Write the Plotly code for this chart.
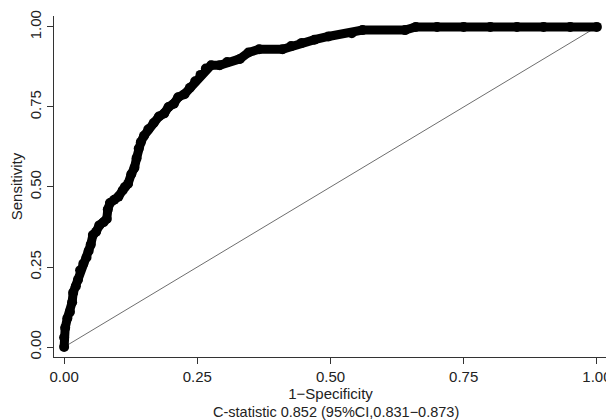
import plotly.graph_objects as go

# ROC curve points (1 - specificity, sensitivity)
fpr = [0.000, 0.000, 0.002, 0.006, 0.011, 0.015, 0.017, 0.022, 0.026, 0.030,
       0.036, 0.042, 0.046, 0.050, 0.054, 0.060, 0.066, 0.074, 0.080, 0.082,
       0.086, 0.094, 0.102, 0.110, 0.114, 0.120, 0.126, 0.132, 0.136, 0.140,
       0.144, 0.150, 0.158, 0.168, 0.178, 0.188, 0.196, 0.206, 0.214, 0.226,
       0.236, 0.246, 0.256, 0.266, 0.276, 0.292, 0.306, 0.330, 0.346, 0.366,
       0.410, 0.426, 0.446, 0.470, 0.496, 0.540, 0.560, 0.640, 0.660, 0.700,
       0.750, 0.800, 0.850, 0.900, 0.950, 1.000]
tpr = [0.000, 0.030, 0.060, 0.090, 0.110, 0.140, 0.170, 0.190, 0.210, 0.240,
       0.260, 0.280, 0.300, 0.320, 0.350, 0.360, 0.380, 0.390, 0.400, 0.430,
       0.450, 0.460, 0.470, 0.490, 0.500, 0.510, 0.540, 0.560, 0.590, 0.620,
       0.640, 0.660, 0.680, 0.700, 0.720, 0.730, 0.750, 0.760, 0.780, 0.790,
       0.810, 0.830, 0.850, 0.870, 0.880, 0.880, 0.890, 0.900, 0.920, 0.930,
       0.930, 0.940, 0.950, 0.960, 0.970, 0.980, 0.990, 0.990, 1.000, 1.000,
       1.000, 1.000, 1.000, 1.000, 1.000, 1.000]

ref_x = [0, 1]
ref_y = [0, 1]

tick_vals = [0, 0.25, 0.5, 0.75, 1.0]
tick_text = ["0.00", "0.25", "0.50", "0.75", "1.00"]

caption = "C-statistic 0.852 (95%CI,0.831\u22120.873)"

font = "Liberation Sans, Arial, sans-serif"

fig = go.Figure()
fig.add_trace(go.Scatter(
    x=ref_x, y=ref_y, mode="lines",
    line=dict(color="#6e6e6e", width=1),
    showlegend=False))
fig.add_trace(go.Scatter(
    x=fpr, y=tpr, mode="lines+markers",
    line=dict(color="black", width=9),
    marker=dict(color="black", size=10),
    showlegend=False))

axis_common = dict(
    tickvals=tick_vals, ticktext=tick_text,
    ticks="outside", ticklen=6, tickwidth=1, tickcolor="#333",
    showline=True, linecolor="#333", linewidth=1,
    showgrid=False, zeroline=False, automargin=False,
    tickfont=dict(family=font, size=15, color="#222"),
)

fig.update_xaxes(
    range=[-0.019, 1.019],
    ticklabelstandoff=0,
    title=dict(text="1\u2212Specificity", standoff=0,
               font=dict(family=font, size=15, color="#222")),
    **axis_common)
fig.update_yaxes(
    range=[-0.031, 1.034],
    tickangle=-90,
    title=dict(text="Sensitivity", standoff=4,
               font=dict(family=font, size=15, color="#222")),
    **axis_common)

fig.add_annotation(
    text=caption, xref="paper", yref="paper", x=0.5, y=0,
    xanchor="center", yanchor="middle", xshift=5, yshift=-55, showarrow=False,
    font=dict(family=font, size=14.5, color="#222"))

# the page body has an 8px margin, so the figure is 8px smaller than the window
fig.update_layout(
    width=606, height=412,
    margin=dict(l=46, r=7, t=8, b=63),
    paper_bgcolor="white", plot_bgcolor="white",
)

fig.write_html("out.html")
